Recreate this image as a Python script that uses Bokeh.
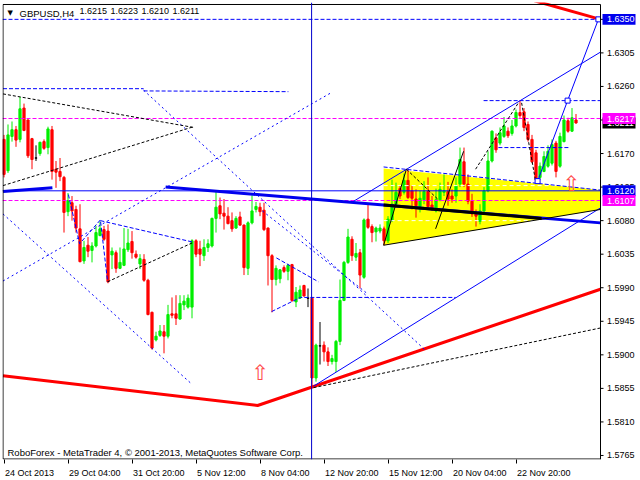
from bokeh.plotting import figure
from bokeh.models import Range1d, FixedTicker, Label, Span, CustomJSTickFormatter
from bokeh.embed import file_html
from bokeh.resources import INLINE
from bokeh.core.properties import value

# ---------------- data ----------------
opens = [1.6189, 1.6147, 1.6193, 1.6202, 1.6189, 1.6231, 1.6215, 1.6190, 1.6164, 1.6170,
         1.6186, 1.6178, 1.6202, 1.6149, 1.6146, 1.6138, 1.6092, 1.6104, 1.6095, 1.6069,
         1.6026, 1.6047, 1.6040, 1.6046, 1.6060, 1.6068, 1.6066, 1.6034, 1.6037, 1.6016,
         1.6020, 1.6041, 1.6052, 1.6035, 1.6022, 1.6028, 1.6000, 1.5957, 1.5920, 1.5926,
         1.5931, 1.5925, 1.5955, 1.5955, 1.5948, 1.5967, 1.5964, 1.5964, 1.6053, 1.6042,
         1.6033, 1.6044, 1.6046, 1.6083, 1.6100, 1.6090, 1.6086, 1.6080, 1.6070, 1.6085,
         1.6074, 1.6016, 1.6077, 1.6095, 1.6098, 1.6094, 1.6070, 1.6033, 1.6001, 1.6002,
         1.6017, 1.6012, 1.6021, 1.5971, 1.5976, 1.5993, 1.5976, 1.5976, 1.5869, 1.5912,
         1.5913, 1.5904, 1.5891, 1.5891, 1.5918, 1.5973, 1.6024, 1.6055, 1.6031, 1.6037,
         1.6004, 1.6082, 1.6072, 1.6065, 1.6066, 1.6069, 1.6053, 1.6080, 1.6102, 1.6123,
         1.6118, 1.6134, 1.6120, 1.6109, 1.6099, 1.6108, 1.6119, 1.6101, 1.6093, 1.6108,
         1.6118, 1.6119, 1.6113, 1.6113, 1.6129, 1.6159, 1.6129, 1.6106, 1.6090, 1.6079,
         1.6093, 1.6120, 1.6160, 1.6191, 1.6184, 1.6193, 1.6200, 1.6197, 1.6207, 1.6225,
         1.6226, 1.6209, 1.6189, 1.6171, 1.6138, 1.6146, 1.6153, 1.6157, 1.6184, 1.6153,
         1.6186, 1.6214, 1.6200, 1.6215]
highs = [1.6195, 1.6209, 1.6213, 1.6207, 1.6246, 1.6237, 1.6216, 1.6191, 1.6181, 1.6186,
         1.6189, 1.6206, 1.6207, 1.6160, 1.6164, 1.6140, 1.6117, 1.6113, 1.6100, 1.6102,
         1.6053, 1.6058, 1.6051, 1.6073, 1.6079, 1.6073, 1.6075, 1.6044, 1.6040, 1.6044,
         1.6070, 1.6069, 1.6066, 1.6040, 1.6035, 1.6035, 1.6002, 1.5958, 1.5931, 1.5940,
         1.5940, 1.5967, 1.5977, 1.5980, 1.5980, 1.5980, 1.5981, 1.6055, 1.6055, 1.6053,
         1.6055, 1.6055, 1.6084, 1.6119, 1.6111, 1.6109, 1.6098, 1.6091, 1.6086, 1.6092,
         1.6075, 1.6079, 1.6114, 1.6105, 1.6104, 1.6104, 1.6071, 1.6035, 1.6020, 1.6015,
         1.6020, 1.6022, 1.6022, 1.5991, 1.5993, 1.5994, 1.5989, 1.5977, 1.5915, 1.5944,
         1.5918, 1.5910, 1.5900, 1.5920, 1.6001, 1.6026, 1.6069, 1.6059, 1.6050, 1.6042,
         1.6083, 1.6102, 1.6075, 1.6072, 1.6075, 1.6072, 1.6086, 1.6135, 1.6131, 1.6127,
         1.6143, 1.6149, 1.6127, 1.6122, 1.6120, 1.6133, 1.6138, 1.6113, 1.6123, 1.6131,
         1.6142, 1.6132, 1.6122, 1.6138, 1.6178, 1.6178, 1.6142, 1.6116, 1.6095, 1.6102,
         1.6125, 1.6173, 1.6201, 1.6197, 1.6205, 1.6219, 1.6205, 1.6215, 1.6229, 1.6241,
         1.6231, 1.6213, 1.6195, 1.6175, 1.6158, 1.6173, 1.6181, 1.6189, 1.6187, 1.6198,
         1.6221, 1.6218, 1.6231, 1.6223]
lows = [1.6138, 1.6144, 1.6186, 1.6179, 1.6185, 1.6200, 1.6164, 1.6149, 1.6160, 1.6167,
        1.6175, 1.6169, 1.6135, 1.6124, 1.6133, 1.6064, 1.6086, 1.6080, 1.6064, 1.6024,
        1.6022, 1.6031, 1.6024, 1.6044, 1.6059, 1.6053, 1.5996, 1.6015, 1.6010, 1.6015,
        1.6019, 1.6038, 1.6029, 1.6029, 1.6015, 1.5998, 1.5953, 1.5907, 1.5918, 1.5924,
        1.5902, 1.5922, 1.5949, 1.5940, 1.5947, 1.5960, 1.5962, 1.5949, 1.6031, 1.6019,
        1.6026, 1.6038, 1.6044, 1.6064, 1.6082, 1.6068, 1.6075, 1.6065, 1.6069, 1.6073,
        1.6007, 1.6007, 1.6075, 1.6091, 1.6086, 1.6066, 1.5993, 1.5957, 1.5993, 1.5996,
        1.6010, 1.6000, 1.5971, 1.5964, 1.5975, 1.5978, 1.5964, 1.5858, 1.5864, 1.5887,
        1.5891, 1.5885, 1.5887, 1.5877, 1.5913, 1.5972, 1.6022, 1.6026, 1.6026, 1.5989,
        1.6002, 1.6069, 1.6051, 1.6052, 1.6063, 1.6047, 1.6050, 1.6078, 1.6098, 1.6109,
        1.6115, 1.6109, 1.6095, 1.6084, 1.6091, 1.6102, 1.6098, 1.6093, 1.6091, 1.6106,
        1.6113, 1.6100, 1.6104, 1.6104, 1.6125, 1.6125, 1.6102, 1.6085, 1.6072, 1.6075,
        1.6091, 1.6118, 1.6158, 1.6171, 1.6181, 1.6191, 1.6191, 1.6194, 1.6205, 1.6218,
        1.6200, 1.6186, 1.6157, 1.6133, 1.6135, 1.6145, 1.6151, 1.6154, 1.6138, 1.6151,
        1.6185, 1.6198, 1.6199, 1.6210]
closes = [1.6142, 1.6195, 1.6202, 1.6188, 1.6230, 1.6201, 1.6167, 1.6162, 1.6164, 1.6185,
          1.6177, 1.6203, 1.6146, 1.6145, 1.6139, 1.6091, 1.6107, 1.6093, 1.6070, 1.6025,
          1.6044, 1.6039, 1.6046, 1.6064, 1.6069, 1.6055, 1.5998, 1.6039, 1.6016, 1.6024,
          1.6042, 1.6050, 1.6037, 1.6031, 1.6029, 1.6000, 1.5954, 1.5909, 1.5925, 1.5932,
          1.5925, 1.5954, 1.5953, 1.5949, 1.5969, 1.5972, 1.5976, 1.6053, 1.6035, 1.6035,
          1.6044, 1.6049, 1.6083, 1.6098, 1.6089, 1.6086, 1.6076, 1.6069, 1.6083, 1.6074,
          1.6017, 1.6077, 1.6093, 1.6099, 1.6092, 1.6068, 1.6033, 1.6001, 1.6016, 1.6014,
          1.6012, 1.6020, 1.5973, 1.5984, 1.5987, 1.5979, 1.5976, 1.5869, 1.5913, 1.5912,
          1.5904, 1.5891, 1.5895, 1.5918, 1.5973, 1.6024, 1.6058, 1.6033, 1.6036, 1.6007,
          1.6081, 1.6071, 1.6064, 1.6070, 1.6070, 1.6053, 1.6082, 1.6102, 1.6118, 1.6113,
          1.6134, 1.6111, 1.6110, 1.6100, 1.6110, 1.6119, 1.6099, 1.6095, 1.6108, 1.6122,
          1.6120, 1.6109, 1.6109, 1.6127, 1.6162, 1.6129, 1.6106, 1.6089, 1.6086, 1.6093,
          1.6120, 1.6160, 1.6200, 1.6175, 1.6198, 1.6207, 1.6194, 1.6207, 1.6225, 1.6221,
          1.6205, 1.6189, 1.6159, 1.6135, 1.6153, 1.6166, 1.6173, 1.6182, 1.6146, 1.6193,
          1.6215, 1.6200, 1.6218, 1.6211]
bars = list(range(len(opens)))

time_labels = ["24 Oct 2013", "29 Oct 04:00", "31 Oct 20:00", "5 Nov 12:00", "8 Nov 04:00",
               "12 Nov 20:00", "15 Nov 12:00", "20 Nov 04:00", "22 Nov 20:00"]
time_label_bars = [0, 16, 32, 48, 64, 80, 96, 112, 128]
price_ticks = [1.5765, 1.5810, 1.5855, 1.5900, 1.5945, 1.5990, 1.6035, 1.6080, 1.6125,
               1.6170, 1.6215, 1.6260, 1.6305, 1.6350]

title_symbol = "GBPUSD,H4"
title_quote = ["1.6215", "1.6223", "1.6210", "1.6211"]
footer_text = "RoboForex - MetaTrader 4, \u00a9 2001-2013, MetaQuotes Software Corp."

# horizontal levels
level_blue_dashed = [1.6350]
level_magenta_dashed = [1.6217, 1.6107]
level_blue_solid = [1.6120]
vertical_line_bar = 76.9

# price boxes on the scale
box_texts = ["1.6350", "1.6211", "1.6217", "1.6120", "1.6107"]
box_prices = [1.6350, 1.6211, 1.6217, 1.6120, 1.6107]
box_colors = ["#0000ee", "#000000", "#ff00ff", "#0000ee", "#ff00ff"]

# drawn objects (bar index, price)
tri_x = [94.9, 149.1, 149.1, 94.9]
tri_y = [1.6150, 1.6121, 1.6095, 1.6047]

dotted_blue = [([34.9, 105.4], [1.6255, 1.5906]),
               ([-0.25, 81.6], [1.5999, 1.6251]),
               ([-0.25, 47.1], [1.6089, 1.5860]),
               ([64.6, 91.1], [1.6093, 1.5981])]
dashed_blue = [([-0.25, 34.9], [1.6257, 1.6257]),
               ([34.9, 71.1], [1.6254, 1.6253]),
               ([16.1, 18.9, 24.1, 25.9], [1.6115, 1.6049, 1.6081, 1.5998]),
               ([24.1, 47.4], [1.6080, 1.6051]),
               ([68.1, 78.6], [1.6030, 1.5998]),
               ([66.9, 74.1, 112.9], [1.5958, 1.5977, 1.5977]),
               ([119.9, 149.1], [1.6241, 1.6241]),
               ([123.6, 141.1], [1.6178, 1.6178]),
               ([94.9, 149.1], [1.6152, 1.6121])]
solid_blue = [([77.4, 149.1], [1.5858, 1.6097]),
              ([87.1, 149.1], [1.6105, 1.6306]),
              ([133.4, 140.9, 148.6], [1.6133, 1.6241, 1.6350])]
marker_x = [133.4, 140.9, 148.6]
marker_y = [1.6133, 1.6241, 1.6350]
thick_blue = [([-0.25, 12.1], [1.6119, 1.6124]),
              ([40.4, 149.1], [1.6125, 1.6077])]
thick_black = [([94.9, 134.4], [1.6101, 1.6083])]
solid_black = [([94.9, 149.1], [1.6047, 1.6095]),
               ([94.9, 100.6], [1.6047, 1.6149]),
               ([107.9, 114.9], [1.6069, 1.6173])]
dashed_black = [([-0.25, 47.4], [1.6250, 1.6205]),
                ([-0.25, 47.4], [1.6127, 1.6206]),
                ([25.9, 47.4], [1.5998, 1.6051]),
                ([77.4, 149.1], [1.5856, 1.5936]),
                ([100.6, 108.4], [1.6149, 1.6109]),
                ([117.9, 128.6], [1.6149, 1.6238]),
                ([129.4, 132.9], [1.6238, 1.6133])]
dashed_white = [([94.9, 149.1], [1.6127, 1.6127]),
                ([94.9, 134.4], [1.6080, 1.6080])]
thick_red = [([-0.25, 63.4, 149.1], [1.5872, 1.5832, 1.5988]),
             ([132.6, 149.1], [1.6375, 1.6350])]
arrow_x = [64.1, 141.9]
arrow_y = [1.5875, 1.6129]

# ---------------- figure ----------------
FONT = "Liberation Sans"
XL, XR = -0.375, 159.125          # frame (price area + price scale area)
X_AXIS = 149.125                  # position of the price scale line
YB, YT = 1.57596, 1.63726
PX_BAR = 4.0                      # pixels per bar
PX_PRICE = 460.0 / (YT - YB)      # pixels per price unit

p = figure(width=640, height=480, x_range=Range1d(XL, XR), y_range=Range1d(YB, YT),
           output_backend="svg", toolbar_location=None,
           min_border_left=2, min_border_top=2, min_border_right=0, min_border_bottom=18,
           background_fill_color="white", border_fill_color="white")
p.grid.visible = False
p.outline_line_color = None
p.yaxis.visible = False

# time axis: labels begin at their tick, like MetaTrader
cw = {c: 0.556 for c in "0123456789"}
cw.update({" ": 0.278, ":": 0.278, "O": 0.778, "c": 0.5, "t": 0.278, "N": 0.722, "o": 0.556, "v": 0.5})
label_pos = []
for b, t in zip(time_label_bars, time_labels):
    w = sum(cw.get(ch, 0.55) for ch in t) * 9
    label_pos.append(b + (w / 2 + 1) / PX_BAR)
xa = p.xaxis[0]
xa.ticker = FixedTicker(ticks=label_pos, minor_ticks=time_label_bars)
xa.formatter = CustomJSTickFormatter(args=dict(labels=time_labels), code="return labels[index];")
xa.major_tick_out = 0
xa.major_tick_in = 0
xa.minor_tick_out = 4
xa.minor_tick_in = 0
xa.minor_tick_line_color = "black"
xa.axis_line_color = None
xa.major_label_standoff = 4
xa.major_label_text_font = FONT
xa.major_label_text_font_size = "9px"
xa.major_label_text_color = "black"

# yellow triangle in the background
p.patch(tri_x, tri_y, fill_color="#ffff00", line_color=None)

# candles
colors = ["#00ee00" if c > o else ("#ff0000" if c < o else "#000000") for o, c in zip(opens, closes)]
p.segment(x0=bars, y0=lows, x1=bars, y1=highs, line_color=colors, line_width=1)
p.vbar(x=bars, width=0.55, top=[max(o, c) for o, c in zip(opens, closes)],
       bottom=[min(o, c) for o, c in zip(opens, closes)], fill_color=colors, line_color=colors)

# horizontal levels (up to the price scale)
for lv in level_blue_dashed:
    p.line([XL, X_AXIS], [lv, lv], line_color="#0000ff", line_dash="4 2", line_width=1)
for lv in level_magenta_dashed:
    p.line([XL, X_AXIS], [lv, lv], line_color="#ff00ff", line_dash="4 2", line_width=1)
for lv in level_blue_solid:
    p.line([XL, X_AXIS], [lv, lv], line_color="#0000ff", line_width=1)
p.add_layout(Span(location=vertical_line_bar, dimension="height", line_color="#0000cd", line_width=1))

# objects
for xs, ys in dashed_white:
    p.line(xs, ys, line_color="white", line_dash="4 3", line_width=1)
for xs, ys in thick_blue:
    p.line(xs, ys, line_color="#0000ee", line_width=3)
for xs, ys in thick_black:
    p.line(xs, ys, line_color="black", line_width=3)
for xs, ys in thick_red:
    p.line(xs, ys, line_color="#ff0000", line_width=3)
for xs, ys in dotted_blue:
    p.line(xs, ys, line_color="#0000ff", line_dash="2 3", line_width=1)
for xs, ys in dashed_blue:
    p.line(xs, ys, line_color="#0000ff", line_dash="4 2", line_width=1)
for xs, ys in solid_blue:
    p.line(xs, ys, line_color="#0000ff", line_width=1)
for xs, ys in solid_black:
    p.line(xs, ys, line_color="black", line_width=1)
for xs, ys in dashed_black:
    p.line(xs, ys, line_color="black", line_dash="3 2", line_width=1)
p.scatter(marker_x, marker_y, marker="square", size=5, fill_color="white", line_color="#0000ff")
p.text(x=arrow_x, y=arrow_y, text=["\u21e7"] * len(arrow_x), text_font=value("DejaVu Sans"),
       text_font_size="21px", text_color="#ff4a4a", text_align="center", text_baseline="middle")

# white strip for the price scale, then the chart border and price scale
p.quad(left=[X_AXIS], right=[XR], bottom=[YB], top=[YT], fill_color="white", line_color=None)
half_px = 0.5 / PX_PRICE
p.line([X_AXIS, -0.25, -0.25, X_AXIS], [YT - half_px * 4, YT - half_px * 4, YB + half_px, YB + half_px],
       line_color="black", line_width=1)
p.line([X_AXIS, X_AXIS], [YB, YT - half_px * 4], line_color="black", line_width=1)
p.segment(x0=[X_AXIS] * len(price_ticks), x1=[X_AXIS + 3 / PX_BAR] * len(price_ticks),
          y0=price_ticks, y1=price_ticks, line_color="black", line_width=1)
lab_x = X_AXIS + 6.5 / PX_BAR
p.text(x=[lab_x] * len(price_ticks), y=price_ticks, text=["%.4f" % v for v in price_ticks],
       text_font=value(FONT), text_font_size="9px", text_color="black",
       text_align="left", text_baseline="middle")
box_half = 5.5 / PX_PRICE
for t, pr, col in zip(box_texts, box_prices, box_colors):
    p.quad(left=[X_AXIS + 2 / PX_BAR], right=[X_AXIS + 35 / PX_BAR], bottom=[pr - box_half],
           top=[pr + box_half], fill_color=col, line_color=None)
    p.text(x=[lab_x], y=[pr], text=[t], text_font=value(FONT), text_font_size="9px",
           text_color="white", text_align="left", text_baseline="middle")

# title (symbol, then the four quotes, each placed after the previous one)
p.text(x=[XL], y=[YT], x_offset=5, y_offset=6, text=["\u25bc"], text_font=value("DejaVu Sans"),
       text_font_size="7px", text_baseline="top", text_color="black")
p.text(x=[XL], y=[YT], x_offset=17, y_offset=5, text=[title_symbol], text_font=value(FONT),
       text_font_size="9.5px", text_baseline="top", text_color="black")
quote_x_px = 79.0
for q in title_quote:
    p.text(x=[XL], y=[YT], x_offset=quote_x_px - 2, y_offset=5, text=[q], text_font=value(FONT),
           text_font_size="9px", text_baseline="top", text_color="black")
    quote_x_px += 31.0

p.add_layout(Label(x=XL, y=YB, x_offset=5, y_offset=2, text=footer_text, text_font=FONT,
                   text_font_size="9.5px", text_baseline="bottom", text_color="black"))

open("out.html", "w").write(file_html(p, INLINE))
